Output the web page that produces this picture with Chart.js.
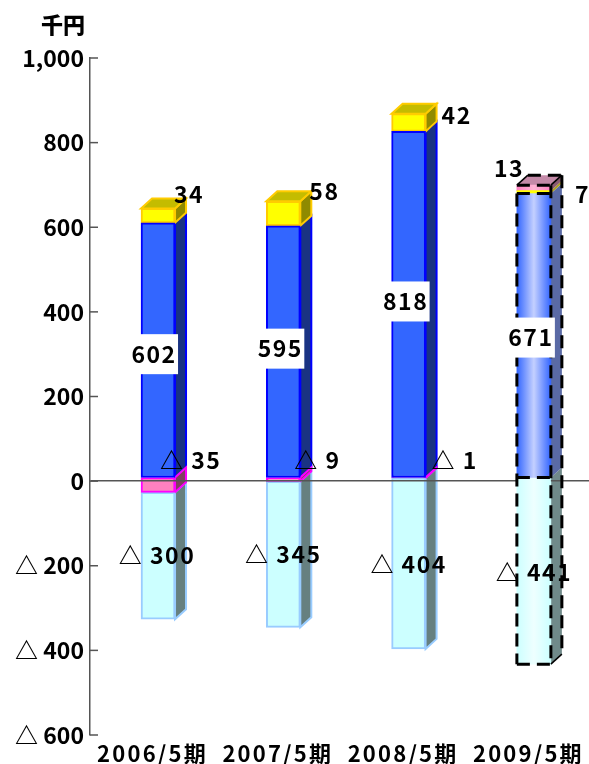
<!DOCTYPE html>
<html>
<head>
<meta charset="utf-8">
<style>
  html, body { margin: 0; padding: 0; background: #fff; overflow: hidden; }
  canvas { display: block; }
</style>
<script src="https://cdn.jsdelivr.net/npm/chart.js@4/dist/chart.umd.min.js"></script>
</head>
<body>
<canvas id="chart" width="589" height="764"></canvas>
<script>
/* ================= DATA ================= */
const categories = ["2006/5期", "2007/5期", "2008/5期", "2009/5期"];
const blueValues = [602, 595, 818, 671];
const yellowValues = [34, 58, 42, 7];
const pinkValues = [-35, -9, -1, 13];
const cyanValues = [-300, -345, -404, -441];
const yTicks = [1000, 800, 600, 400, 200, 0, -200, -400, -600];
const unitLabel = "千円";

/* ================= LOOK ================= */
const FONT = '"Noto Sans CJK JP", "Noto Sans", sans-serif';
const DEPTH_X = 11;
const DEPTH_Y = 10;
const BAR_W = 34;
const FORECAST = 3; // last bar is the dashed forecast one

// label nudges, px from the bar they belong to
const blueLabelDx = [-4, -3, -3, -3];
const blueLabelDy = [4, -3, -3, 2];
const cyanLabelDx = [-1, 0, 0, 0];
const cyanLabelDy = [-1, 0, 1, 1];
const yellowLabelDx = [16, 26, 33, 41];
const yellowLabelDy = [-14, -10, 2, 4];
const pinkLabelDx = [2, 11, 23, -40];

function fmt(v) {
  if (v < 0) return "△ " + Math.abs(v);
  return v.toLocaleString("en-US");
}

function pts(arr) {
  return arr.map((v, i) => ({ x: i, y: v }));
}

function hGrad(chart, i, edge, mid) {
  const cx = chart.scales.x.getPixelForValue(i);
  const g = chart.ctx.createLinearGradient(cx - BAR_W / 2, 0, cx + BAR_W / 2, 0);
  g.addColorStop(0, edge);
  g.addColorStop(0.5, mid);
  g.addColorStop(1, edge);
  return g;
}

function series(label, data, fill, stroke, midFill, sideFill, topFill) {
  return {
    label, data: pts(data), yAxisID: "yBars", stack: "s",
    backgroundColor: c => (c.dataIndex === FORECAST && midFill)
      ? hGrad(c.chart, c.dataIndex, fill, midFill) : fill,
    borderColor: stroke,
    borderWidth: c => c.dataIndex === FORECAST ? 0 : 2,
    borderSkipped: false,
    barThickness: BAR_W,
    sideFill, topFill
  };
}

/* ================= 3D FACES + LABELS ================= */
function poly(ctx, p, fill, stroke) {
  ctx.beginPath();
  p.forEach((q, i) => i ? ctx.lineTo(q[0], q[1]) : ctx.moveTo(q[0], q[1]));
  ctx.closePath();
  ctx.fillStyle = fill;
  ctx.fill();
  if (stroke) {
    ctx.strokeStyle = stroke;
    ctx.lineWidth = 2;
    ctx.stroke();
  }
}

function box(el) {
  return {
    l: el.x - BAR_W / 2, r: el.x + BAR_W / 2,
    t: Math.min(el.y, el.base), b: Math.max(el.y, el.base)
  };
}

const faces3d = {
  id: "faces3d",
  beforeDatasetsDraw(chart) {
    const ctx = chart.ctx;
    ctx.save();
    // back to front: cyan, blue, yellow, pink
    [3, 0, 1, 2].forEach(d => {
      const ds = chart.data.datasets[d];
      chart.getDatasetMeta(d).data.forEach((el, i) => {
        const b = box(el);
        const last = i === FORECAST;
        poly(ctx, [[b.r, b.t], [b.r + DEPTH_X, b.t - DEPTH_Y],
          [b.r + DEPTH_X, b.b - DEPTH_Y], [b.r, b.b]],
          last ? ds.sideFill[1] : ds.sideFill[0], last ? null : ds.borderColor);
      });
    });
    // lid on top of each positive stack
    [0, 1, 2, 3].forEach(i => {
      const d = pinkValues[i] > 0 ? 2 : 1;
      const ds = chart.data.datasets[d];
      const b = box(chart.getDatasetMeta(d).data[i]);
      poly(ctx, [[b.l, b.t], [b.l + DEPTH_X, b.t - DEPTH_Y],
        [b.r + DEPTH_X, b.t - DEPTH_Y], [b.r, b.t]],
        ds.topFill, i === FORECAST ? null : ds.borderColor);
    });
    ctx.restore();
  },
  afterDatasetsDraw(chart) {
    // x labels draw next (z 1) and need wider tracking
    chart.ctx.letterSpacing = "2.2px";
  },
  afterDraw(chart) {
    const ctx = chart.ctx;
    const yScale = chart.scales.y;
    const blueEls = chart.getDatasetMeta(0).data;
    const yellowEls = chart.getDatasetMeta(1).data;
    const pinkEls = chart.getDatasetMeta(2).data;
    const cyanEls = chart.getDatasetMeta(3).data;
    ctx.letterSpacing = "0px";
    ctx.save();

    // zero line stays hidden behind the forecast bar front
    const zeroPx = yScale.getPixelForValue(0);
    const f = box(cyanEls[FORECAST]);
    ctx.fillStyle = hGrad(chart, FORECAST, "#ccffff", "#eeffff");
    ctx.fillRect(f.l, zeroPx - 2, BAR_W, 4);

    // dashed outline on the forecast bar
    const top = box(pinkEls[FORECAST]);
    const blue = box(blueEls[FORECAST]);
    const l = top.l, r = top.r, rb = r + DEPTH_X;
    ctx.strokeStyle = "#000";
    ctx.lineWidth = 3;
    ctx.setLineDash([13, 7]);
    const seg = (x1, y1, x2, y2) => {
      ctx.beginPath();
      ctx.moveTo(x1, y1);
      ctx.lineTo(x2, y2);
      ctx.stroke();
    };
    seg(l, blue.t, l, f.b);
    seg(r, top.t, r, f.b);
    seg(l, f.b, r, f.b);
    seg(rb, top.t - DEPTH_Y, rb, f.b - DEPTH_Y);
    seg(l, blue.t, r, blue.t);
    seg(l, top.t, r, top.t);
    seg(l + DEPTH_X, top.t - DEPTH_Y, rb, top.t - DEPTH_Y);
    seg(l, blue.b, r, blue.b);
    ctx.setLineDash([]);
    ctx.lineWidth = 1.5;
    seg(r, f.b, rb, f.b - DEPTH_Y);
    seg(l, top.t, l + DEPTH_X, top.t - DEPTH_Y);
    seg(r, top.t, rb, top.t - DEPTH_Y);

    // y tick marks point inward
    ctx.strokeStyle = "#555";
    ctx.lineWidth = 1.5;
    yScale.ticks.forEach(t => {
      const py = yScale.getPixelForValue(t.value);
      ctx.beginPath();
      ctx.moveTo(chart.chartArea.left, py);
      ctx.lineTo(chart.chartArea.left + 8, py);
      ctx.stroke();
    });

    ctx.fillStyle = "#000";
    ctx.textBaseline = "middle";
    ctx.font = "900 22px " + FONT;
    ctx.textAlign = "center";
    ctx.fillText(unitLabel, 63, 25);

    ctx.font = "700 23px " + FONT;
    ctx.letterSpacing = "1.5px";
    blueValues.forEach((v, i) => {
      const b = box(blueEls[i]);
      const cx = blueEls[i].x + blueLabelDx[i];
      const cy = (b.t + b.b) / 2 + blueLabelDy[i];
      ctx.fillStyle = "#fff";
      ctx.fillRect(cx - 24, cy - 20, 48, 40);
      ctx.fillStyle = "#000";
      ctx.fillText(fmt(v), cx, cy);
    });
    cyanValues.forEach((v, i) => {
      const b = box(cyanEls[i]);
      ctx.fillText(fmt(v), cyanEls[i].x + cyanLabelDx[i], (b.t + b.b) / 2 + cyanLabelDy[i]);
    });
    ctx.textAlign = "left";
    yellowValues.forEach((v, i) => {
      const b = box(yellowEls[i]);
      ctx.fillText(fmt(v), yellowEls[i].x + yellowLabelDx[i], b.t + yellowLabelDy[i]);
    });
    pinkValues.forEach((v, i) => {
      const b = box(pinkEls[i]);
      ctx.fillText(fmt(v), pinkEls[i].x + pinkLabelDx[i], b.t - 17);
    });
    ctx.restore();
  }
};

/* ================= CHART ================= */
new Chart(document.getElementById("chart"), {
  type: "bar",
  data: {
    datasets: [
      series("blue", blueValues, "#3366ff", "#0000ff", "#c4d0ff", ["#1a3383", "#5a6aa5"], "#3366ff"),
      series("yellow", yellowValues, "#ffff00", "#ffcc00", null, ["#8f8a00", "#b0a020"], "#c4bc00"),
      series("pink", pinkValues, "#ff80c0", "#ff00ff", "#ffb4d4", ["#80405f", "#8a5a70"], "#c48aa8"),
      series("cyan", cyanValues, "#ccffff", "#99ccff", "#eeffff", ["#668080", "#708a8a"], "#ccffff")
    ]
  },
  options: {
    responsive: false,
    animation: false,
    layout: { padding: { top: 58 } },
    plugins: { legend: { display: false }, tooltip: { enabled: false } },
    scales: {
      x: {
        type: "linear",
        stacked: true,
        offset: false,
        min: -0.543,
        max: 3.44,
        afterBuildTicks: s => { s.ticks = categories.map((c, i) => ({ value: i })); },
        afterFit: s => { s.height = 29; },
        grid: { display: false, offset: false, drawTicks: false },
        border: { display: false },
        ticks: {
          z: 1,
          autoSkip: false,
          maxRotation: 0,
          padding: 5,
          labelOffset: -5.5,
          color: "#000",
          font: { family: FONT, size: 22, weight: "700" },
          callback: v => categories[v]
        }
      },
      y: {
        min: -600,
        max: 1000,
        afterBuildTicks: s => { s.ticks = yTicks.map(v => ({ value: v })); },
        afterFit: s => { s.width = 90; },
        border: { display: true, color: "#555", width: 1.5, z: 1 },
        grid: {
          z: 1,
          drawTicks: false,
          lineWidth: 1.5,
          color: c => c.tick.value === 0 ? "#555" : "transparent"
        },
        ticks: {
          padding: 6,
          color: "#000",
          font: { family: FONT, size: 23, weight: "700" },
          callback: v => fmt(v)
        }
      },
      // bars sit a little above the axis zero, the way the 3D floor does
      yBars: {
        display: false,
        stacked: true,
        min: -608.5,
        max: 991.5
      }
    }
  },
  plugins: [faces3d]
});
</script>
</body>
</html>
